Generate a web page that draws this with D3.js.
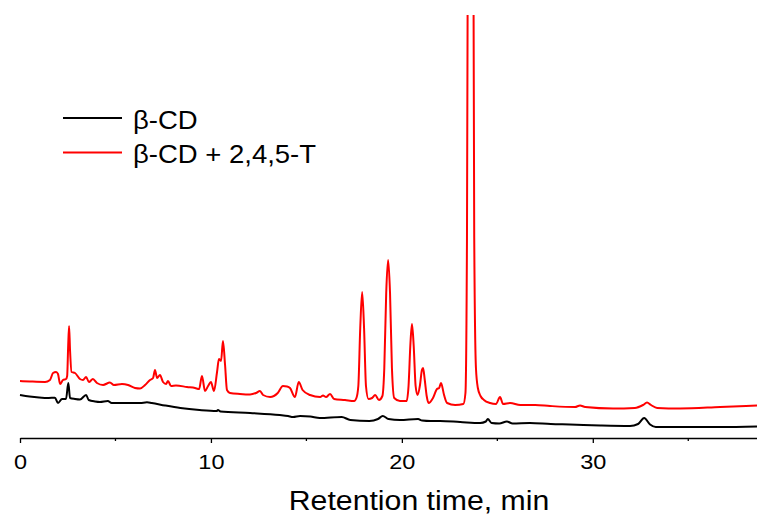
<!DOCTYPE html>
<html>
<head>
<meta charset="utf-8">
<script src="https://cdn.jsdelivr.net/npm/d3@7"></script>
<style>
  html, body { margin: 0; padding: 0; background: #fff; }
  svg { display: block; font-family: "Liberation Sans", Arial, sans-serif; }
</style>
</head>
<body>
<svg id="chart" width="757" height="515"></svg>
<script>
// ---- data (retention time in min, detector signal in arbitrary units) ----
const seriesNames = ["β-CD", "β-CD + 2,4,5-T"];
const seriesColors = ["#000000", "#ff0000"];

const timeBlack = [0, 0.5, 1.0, 1.5, 1.83, 1.99, 2.2, 2.41, 2.53, 2.62, 2.88, 3.14, 3.46, 3.6, 3.93, 4.19, 4.6, 4.8, 5.24, 5.76, 6.29, 6.65, 6.9, 7.6, 8.4, 9.4, 10.3, 10.37, 10.5, 12.05, 13.6, 14.04, 14.3, 14.67, 15.2, 15.7, 16.85, 17.3, 18.3, 18.75, 19.0, 19.3, 19.9, 20.85, 21.06, 21.5, 22.0, 23.05, 24.1, 24.4, 24.5, 24.7, 25.1, 25.5, 25.8, 26.7, 27.8, 28.8, 30.4, 31.95, 32.37, 32.69, 33.0, 33.3, 34.6, 36.7, 38.6];
const signalBlack = [43, 41.5, 40.5, 40, 40.3, 35, 39, 39, 55, 40, 39, 38.5, 43, 38, 36.5, 36, 37, 35, 35, 35, 35, 35.7, 35, 32.5, 30, 28, 27, 28, 26.5, 25, 23, 22, 21, 22, 21.5, 20, 21, 18, 17, 19, 22, 19, 18, 19, 17.5, 17, 17, 16, 15, 16.5, 19, 15, 14.5, 16.5, 14.5, 15, 14, 13.5, 12.5, 12, 14, 20, 13.5, 11, 11, 11, 11.5];

const timeRed = [0, 0.52, 1.31, 1.57, 1.73, 1.89, 1.99, 2.1, 2.25, 2.41, 2.47, 2.52, 2.57, 2.62, 2.7, 2.88, 3.14, 3.3, 3.46, 3.61, 3.82, 4.03, 4.35, 4.71, 4.92, 5.34, 5.66, 6.02, 6.29, 6.55, 6.81, 6.97, 7.07, 7.18, 7.33, 7.49, 7.65, 7.75, 7.91, 8.17, 8.75, 9.17, 9.38, 9.53, 9.69, 9.85, 10.0, 10.16, 10.32, 10.42, 10.53, 10.63, 10.74, 10.84, 11.0, 11.52, 12.05, 12.36, 12.57, 12.73, 13.1, 13.5, 13.77, 13.99, 14.14, 14.4, 14.6, 14.8, 15.19, 15.72, 15.87, 16.03, 16.24, 16.45, 17.02, 17.5, 17.62, 17.72, 17.82, 17.92, 18.02, 18.12, 18.25, 18.44, 18.6, 18.8, 18.98, 19.08, 19.18, 19.28, 19.38, 19.48, 19.6, 19.9, 20.25, 20.35, 20.45, 20.53, 20.62, 20.72, 20.82, 20.95, 21.05, 21.11, 21.2, 21.3, 21.4, 21.63, 21.84, 21.95, 22.05, 22.21, 22.37, 22.79, 23.22, 23.33, 23.41, 23.48, 23.6, 23.72, 23.79, 23.88, 23.98, 24.12, 24.3, 24.62, 24.93, 25.14, 25.3, 25.67, 26.2, 26.98, 27.76, 29.07, 29.33, 29.6, 31.06, 32.2, 32.63, 32.84, 33.05, 33.37, 34.57, 36.67, 38.6];
const signalRed = [57, 56.5, 56, 58, 65, 66, 64, 54, 58, 59, 62, 90, 112, 88, 66, 65, 59, 58, 61, 56, 59, 55, 53, 55.5, 53, 54, 53, 50, 49.5, 53, 58, 60, 68, 60, 63, 56, 54, 57, 52, 52.5, 51, 50, 49, 62, 47, 52, 56, 47, 66, 79, 77, 97, 73, 48, 45, 44, 43.5, 45, 47, 43, 41, 45, 52, 51.5, 50, 41, 56, 48, 43, 41, 42.5, 41, 44, 39, 38, 37, 40, 52, 110, 146, 110, 52, 39, 40, 43, 38, 42, 70, 145, 178, 145, 70, 40, 37, 37, 52, 95, 114, 92, 52, 43, 53, 68, 70, 58, 42, 35, 40, 49, 50, 55, 43, 35, 33, 34, 45, 200, 700, 1800, 700, 200, 70, 50, 42, 38, 35, 34, 41, 34, 35, 33, 33, 32, 31, 32.5, 31, 29.5, 30, 33, 35.5, 33, 30, 29.5, 31, 32.5];

const xTicks = [0, 10, 20, 30];
const xMinorTicks = [5, 15, 25, 35];
const xTitle = "Retention time, min";

// ---- layout ----
const W = 757, H = 515;
const plotLeft = 20, plotRight = 757, plotTop = 15, axisY = 438;
const textStretch = 1.12;

const svg = d3.select("#chart");

const x = d3.scaleLinear().domain([0, 38.6]).range([plotLeft, plotRight]);
const y = d3.scaleLinear().domain([0, 423]).range([axisY, plotTop]);

svg.append("defs").append("clipPath").attr("id", "plotclip")
  .append("rect").attr("x", plotLeft - 2).attr("y", plotTop).attr("width", plotRight - plotLeft + 4).attr("height", H - plotTop);

const line = d3.line().x(d => x(d[0])).y(d => y(d[1])).curve(d3.curveMonotoneX);

const dataBlack = timeBlack.map((t, i) => [t, signalBlack[i]]);
const dataRed = timeRed.map((t, i) => [t, signalRed[i]]);

const plot = svg.append("g").attr("clip-path", "url(#plotclip)");
[dataBlack, dataRed].forEach((d, i) => {
  plot.append("path").datum(d)
    .attr("fill", "none")
    .attr("stroke", seriesColors[i])
    .attr("stroke-width", 2)
    .attr("stroke-linejoin", "round")
    .attr("d", line);
});

// ---- x axis ----
const axis = d3.axisBottom(x).tickValues(xTicks).tickSize(5).tickSizeOuter(0).tickFormat(d3.format("d"));
const gx = svg.append("g").attr("transform", `translate(0,${axisY})`).call(axis);
gx.select(".domain").attr("stroke", "#000").attr("stroke-width", 1.3);
gx.selectAll(".tick line").attr("stroke", "#000").attr("stroke-width", 1.3);
gx.selectAll(".tick text")
  .attr("y", 31).attr("dy", 0)
  .attr("font-size", 21)
  .attr("font-family", "'Liberation Sans', Arial, sans-serif")
  .attr("fill", "#000")
  .attr("transform", `scale(${textStretch},1)`);

gx.selectAll(".minor").data(xMinorTicks).enter().append("line")
  .attr("class", "minor")
  .attr("x1", d => x(d)).attr("x2", d => x(d))
  .attr("y1", 0).attr("y2", 3)
  .attr("stroke", "#000").attr("stroke-width", 1.3);

svg.append("text")
  .attr("transform", `translate(419,510) scale(${textStretch},1)`)
  .attr("text-anchor", "middle")
  .attr("font-size", 27)
  .attr("fill", "#000")
  .text(xTitle);

// ---- legend ----
const legend = svg.append("g");
seriesNames.forEach((name, i) => {
  const ly = 118 + i * 34.5;
  legend.append("line")
    .attr("x1", 63).attr("x2", 122).attr("y1", ly).attr("y2", ly)
    .attr("stroke", seriesColors[i]).attr("stroke-width", 2);
  legend.append("text")
    .attr("transform", `translate(133,${ly + 10.5}) scale(1.1,1)`)
    .attr("font-size", 25)
    .attr("fill", "#000")
    .text(name);
});
</script>
</body>
</html>
